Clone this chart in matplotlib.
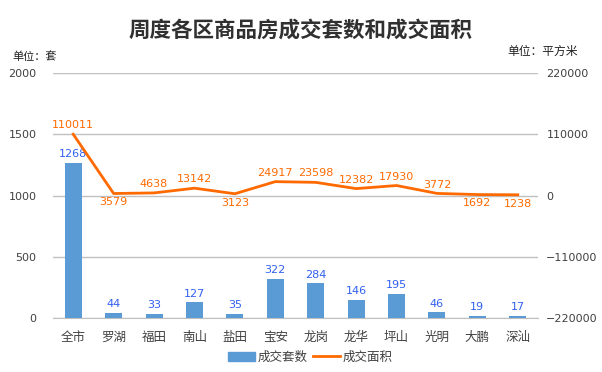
import numpy as np
import matplotlib.pyplot as plt
from matplotlib.lines import Line2D
from matplotlib.patches import Patch

plt.rcParams['font.family'] = ['Noto Sans CJK SC', 'DejaVu Sans']

districts = ["全市", "罗湖", "福田", "南山", "盐田", "宝安", "龙岗", "龙华", "坪山", "光明", "大鹏", "深汕"]
units = [1268, 44, 33, 127, 35, 322, 284, 146, 195, 46, 19, 17]
area = [110011, 3579, 4638, 13142, 3123, 24917, 23598, 12382, 17930, 3772, 1692, 1238]
# labels drawn below the line for these points
below = [1, 4, 10, 11]

bar_color = "#5B9BD5"
line_color = "#FF6A00"
text_color = "#404040"

fig = plt.figure(figsize=(6.02, 3.72), dpi=100)
ax = fig.add_axes([53 / 602, 1 - 318 / 372, 485 / 602, 245 / 372])
ax2 = ax.twinx()

x = np.arange(len(districts))
ax.bar(x, units, width=0.42, color=bar_color, zorder=3)
for i, v in enumerate(units):
    ax.text(i, v + 30, str(v), ha="center", va="bottom", color="#3060F0", fontsize=8,
            family="DejaVu Sans")

ax.set_ylim(0, 2000)
ax.set_yticks([0, 500, 1000, 1500, 2000])
ax.set_xlim(-0.5, len(districts) - 0.5)
ax.set_xticks(x)
ax.set_xticklabels(districts, fontsize=9, color=text_color)
ax.grid(axis="y", color="#C0C0C0", lw=1, zorder=0)
ax.set_axisbelow(True)

ax2.plot(x, area, color=line_color, lw=2, zorder=4)
for i, v in enumerate(area):
    if i in below:
        ax2.text(i, v - 7000, str(v), ha="center", va="top", color=line_color, fontsize=8,
                 family="DejaVu Sans")
    else:
        ax2.text(i, v + 7000, str(v), ha="center", va="bottom", color=line_color, fontsize=8,
                 family="DejaVu Sans")
ax2.set_ylim(-220000, 220000)
ax2.set_yticks([-220000, -110000, 0, 110000, 220000])

for a in (ax, ax2):
    for s in a.spines.values():
        s.set_visible(False)
    a.tick_params(length=0, labelsize=8, colors=text_color)
    for lab in a.get_yticklabels():
        lab.set_family("DejaVu Sans")
ax.spines["bottom"].set_visible(True)
ax.spines["bottom"].set_color("#C0C0C0")
ax.tick_params(axis="x", pad=9, labelsize=9)
ax.tick_params(axis="y", pad=12)
ax2.tick_params(axis="y", pad=6)

fig.text(0.5, 1 - 30 / 372, "周度各区商品房成交套数和成交面积", ha="center", va="center",
         fontsize=15.5, fontweight="bold", color="#303030")
fig.text(12 / 602, 1 - 57 / 372, "单位：套", ha="left", va="center", fontsize=8, color="#202020")
fig.text(578 / 602, 1 - 51 / 372, "单位：平方米", ha="right", va="center", fontsize=8.5, color="#202020")

handles = [Patch(color=bar_color), Line2D([0], [0], color=line_color, lw=2)]
fig.legend(handles, ["成交套数", "成交面积"], loc="center", bbox_to_anchor=(310 / 602, 1 - 357 / 372),
           ncol=2, frameon=False, fontsize=9, handlelength=2.2, handleheight=0.7,
           columnspacing=0.4, handletextpad=0.2, labelcolor=text_color)

fig.savefig("out.png", dpi=100, facecolor="white")
